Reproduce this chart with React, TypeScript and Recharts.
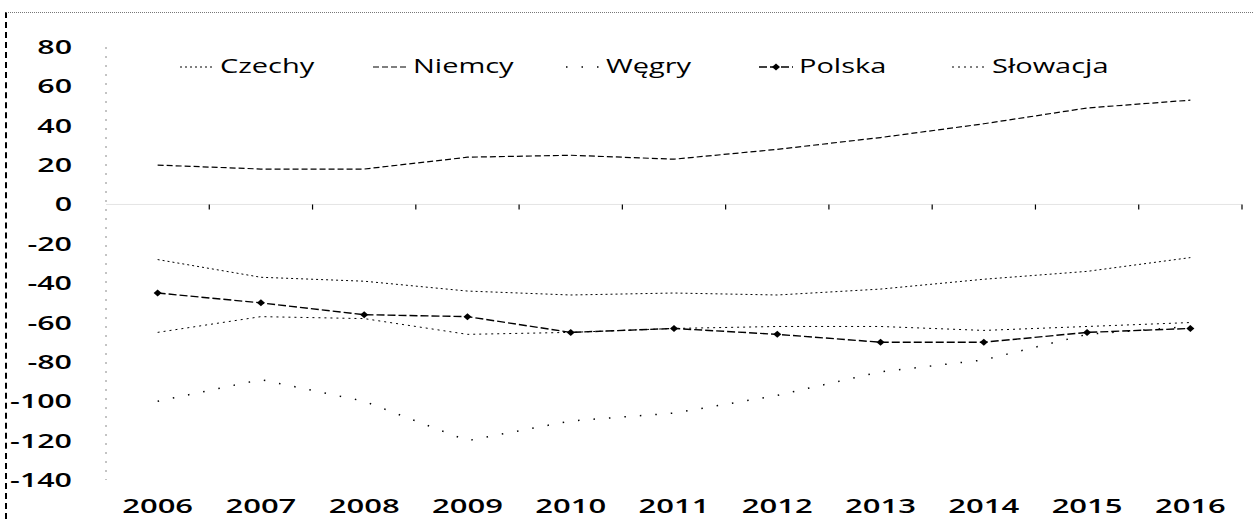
import { Legend, Line, LineChart, ReferenceLine, XAxis, YAxis } from 'recharts'

const YEARS = [2006, 2007, 2008, 2009, 2010, 2011, 2012, 2013, 2014, 2015, 2016]
const CZECHY = [-28, -37, -39, -44, -46, -45, -46, -43, -38, -34, -27]
const NIEMCY = [20, 18, 18, 24, 25, 23, 28, 34, 41, 49, 53]
const WEGRY = [-100, -89, -100, -120, -110, -106, -97, -85, -79, -66, -62]
const POLSKA = [-45, -50, -56, -57, -65, -63, -66, -70, -70, -65, -63]
const SLOWACJA = [-65, -57, -58, -66, -65, -63, -62, -62, -64, -62, -60]
const Y_TICKS = [80, 60, 40, 20, 0, -20, -40, -60, -80, -100, -120, -140]

const FONT = '"Open Sans", "DejaVu Sans", sans-serif'

const data = YEARS.map((year, i) => ({
  year,
  Czechy: CZECHY[i],
  Niemcy: NIEMCY[i],
  Węgry: WEGRY[i],
  Polska: POLSKA[i],
  Słowacja: SLOWACJA[i],
}))

// tick marks on the zero axis sit between the years
const BOUNDS = YEARS.map((y) => y + 0.5)

const SERIES = [
  { key: 'Czechy', dash: '2 3', width: 1, marker: false },
  { key: 'Niemcy', dash: '6 3', width: 1.2, marker: false },
  { key: 'Węgry', dash: '1.5 14', width: 1.5, marker: false },
  { key: 'Polska', dash: '8 3', width: 1.4, marker: true },
  { key: 'Słowacja', dash: '2 4', width: 1, marker: false },
]

function Diamond({ cx, cy }: { cx?: number; cy?: number }) {
  if (cx == null || cy == null) return null
  return <path d={`M${cx - 4},${cy} L${cx},${cy - 3.5} L${cx + 4},${cy} L${cx},${cy + 3.5} Z`} fill="#000" />
}

function XTick({ x, y, payload }: any) {
  return (
    <g transform={`translate(${x},${y + 33}) scale(1.55,1)`}>
      <text textAnchor="middle" fontFamily={FONT} fontSize={20} fontWeight={600} fill="#000">
        {payload.value}
      </text>
    </g>
  )
}

function YTick({ x, y, payload }: any) {
  return (
    <g transform={`translate(${x},${y + 7}) scale(1.6,1)`}>
      <text textAnchor="end" fontFamily={FONT} fontSize={19} fontWeight={600} fill="#000">
        {payload.value}
      </text>
    </g>
  )
}

function LegendBox() {
  return (
    <svg width={1253} height={40} style={{ display: 'block' }}>
      {SERIES.map((s, i) => {
        const x0 = 180 + i * 193
        return (
          <g key={s.key}>
            <line x1={x0} x2={x0 + 34} y1={27} y2={27} stroke="#000" strokeWidth={s.width} strokeDasharray={s.dash} />
            {s.marker && <Diamond cx={x0 + 17} cy={27} />}
            <g transform={`translate(${x0 + 40},${33}) scale(1.45,1)`}>
              <text fontFamily={FONT} fontSize={20} fontWeight={500} fill="#000">
                {s.key}
              </text>
            </g>
          </g>
        )
      })}
    </svg>
  )
}

export default function App() {
  return (
    <div style={{ position: 'absolute', left: 0, top: 0, width: 1253, height: 519, background: '#fff' }}>
      <div
        style={{
          position: 'absolute',
          left: 5,
          top: 12,
          width: 1248,
          height: 507,
          borderLeft: '2px dashed #000',
          borderTop: '1px dotted #777',
          boxSizing: 'border-box',
        }}
      />
      {/* the legend box (40px) is reserved at the top, so top margin is 47 - 40 */}
      <LineChart width={1253} height={519} data={data} margin={{ top: 7, right: 11, bottom: 0, left: 0 }}>
        <XAxis
          dataKey="year"
          type="number"
          domain={[2005.5, 2016.5]}
          ticks={YEARS}
          interval={0}
          height={39}
          axisLine={false}
          tickLine={false}
          tickSize={0}
          tickMargin={0}
          tick={<XTick />}
        />
        <YAxis
          type="number"
          domain={[-140, 80]}
          ticks={Y_TICKS}
          interval={0}
          width={106}
          axisLine={{ stroke: '#888', strokeDasharray: '2 7' }}
          tickLine={false}
          tickSize={0}
          tickMargin={34}
          tick={<YTick />}
        />
        <ReferenceLine y={0} stroke="#e4e4e4" strokeWidth={1} />
        {BOUNDS.map((b) => (
          <ReferenceLine
            key={b}
            segment={[
              { x: b, y: 0 },
              { x: b, y: -2.6 },
            ]}
            stroke="#000"
            strokeWidth={1.2}
          />
        ))}
        <Legend
          layout="vertical"
          align="center"
          verticalAlign="top"
          wrapperStyle={{ position: 'absolute', top: 40, left: 0, width: 1253 }}
          content={() => <LegendBox />}
        />
        {SERIES.map((s) => (
          <Line
            key={s.key}
            dataKey={s.key}
            type="linear"
            stroke="#000"
            strokeWidth={s.width}
            strokeDasharray={s.dash}
            dot={s.marker ? (p: any) => <Diamond key={p.index} cx={p.cx} cy={p.cy} /> : false}
            activeDot={false}
            isAnimationActive={false}
          />
        ))}
      </LineChart>
    </div>
  )
}
